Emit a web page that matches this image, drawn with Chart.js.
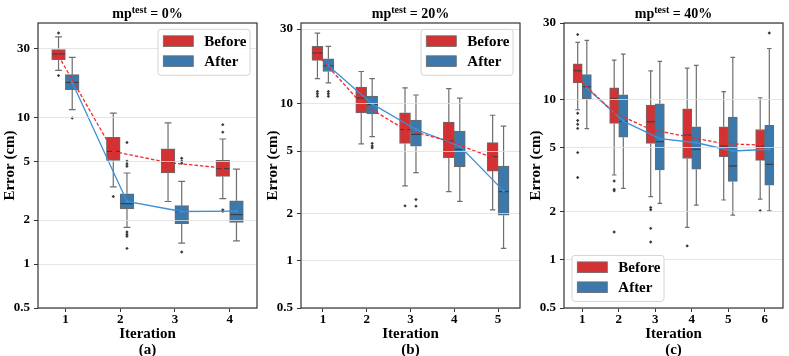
<!DOCTYPE html>
<html>
<head>
<meta charset="utf-8">
<script src="https://cdn.jsdelivr.net/npm/chart.js@4.4.1/dist/chart.umd.min.js"></script>
<style>
  html, body { margin: 0; padding: 0; background: #fff; }
  body { width: 789px; height: 356px; position: relative; overflow: hidden; font-family: 'Liberation Serif', 'Times New Roman', serif; }
  .panel { position: absolute; top: 0; width: 263px; height: 356px; }
  .panel canvas { position: absolute; left: 0; top: 0; }
  .ttl { position: absolute; top: 6.6px; left: 38px; width: 219px; text-align: center; font-size: 14px; line-height: 14px; font-weight: bold; color: #000; white-space: nowrap; }
  .ttl .sup { position: relative; top: -5px; font-size: 10px; }
</style>
</head>
<body>
<div class="panel" style="left:0px"><canvas id="ca" width="263" height="356"></canvas><div class="ttl">mp<span class="sup">test</span> = 0%</div></div>
<div class="panel" style="left:263px"><canvas id="cb" width="263" height="356"></canvas><div class="ttl">mp<span class="sup">test</span> = 20%</div></div>
<div class="panel" style="left:526px"><canvas id="cc" width="263" height="356"></canvas><div class="ttl">mp<span class="sup">test</span> = 40%</div></div>
<script>
// ---------- data (box stats: [lower whisker, Q1, median, Q3, upper whisker]) ----------
const seriesNames = ['Before', 'After'];
const yTicks = [0.5, 1, 2, 5, 10, 30];
const yTickLabels = ['0.5', '1', '2', '5', '10', '30'];

// (a) mp_test = 0%
const iterA = ['1', '2', '3', '4'];
const aBeforeBox = [[21.2, 25.1, 27.4, 29.4, 35.9], [3.37, 5.13, 5.9, 7.36, 10.8], [2.68, 4.2, 5.0, 6.16, 9.25], [2.8, 3.98, 4.5, 5.13, 7.18]];
const aAfterBox  = [[11.4, 15.6, 17.5, 19.8, 26.0], [1.78, 2.38, 2.59, 3.03, 4.2], [1.39, 1.89, 2.29, 2.51, 3.68], [1.44, 1.93, 2.18, 2.71, 4.47]];
const aBeforeOut = [[38.2, 19.5], [2.9], [], [9.0, 8.0, 2.35, 2.3]];
const aAfterOut  = [[10.0], [6.8, 5.05, 4.85, 4.67, 1.66, 1.6, 1.55, 1.28], [5.3, 5.05, 4.9, 1.21], []];
const aBeforeMean = [26.6, 5.9, 4.95, 4.55];
const aAfterMean  = [17.5, 2.68, 2.29, 2.3];

// (b) mp_test = 20%
const iterB = ['1', '2', '3', '4', '5'];
const bBeforeBox = [[14.5, 18.97, 21.1, 23.3, 28.3], [5.57, 8.77, 10.9, 12.8, 16.1], [3.0, 5.6, 6.87, 8.77, 12.65], [2.76, 4.54, 5.8, 7.65, 12.5], [2.11, 3.73, 4.61, 5.66, 8.47]];
const bAfterBox  = [[13.6, 16.1, 17.5, 19.4, 23.3], [6.18, 8.65, 9.9, 11.2, 14.5], [3.65, 5.38, 6.39, 7.88, 11.4], [2.39, 3.98, 5.13, 6.7, 10.9], [1.2, 1.95, 2.76, 4.02, 7.21]];
const bBeforeOut = [[12.0, 11.6, 11.2], [], [2.24], [], []];
const bAfterOut  = [[12.0, 11.6, 11.2], [5.6, 5.4, 5.25], [2.46, 2.23], [], []];
const bBeforeMean = [20.6, 10.1, 6.87, 5.8, 4.54];
const bAfterMean  = [17.5, 10.0, 6.87, 5.38, 2.79];

// (c) mp_test = 40%
const iterC = ['1', '2', '3', '4', '5', '6'];
const cBeforeBox = [[8.63, 12.7, 15.1, 16.7, 22.7], [3.38, 7.09, 10.1, 11.8, 17.6], [2.48, 5.32, 7.26, 9.22, 15.1], [1.59, 4.28, 6.0, 8.75, 15.7], [2.36, 4.4, 5.12, 6.76, 11.2], [2.39, 4.17, 5.12, 6.5, 10.25]];
const cAfterBox  = [[6.57, 10.1, 12.0, 14.3, 23.4], [2.79, 5.82, 7.3, 10.7, 19.2], [2.25, 3.63, 5.45, 9.4, 17.3], [2.19, 3.67, 4.89, 6.76, 16.3], [1.9, 3.08, 3.85, 7.76, 18.3], [2.02, 2.92, 3.94, 6.89, 20.8]];
const cBeforeOut = [[25.4, 8.2, 7.4, 7.0, 6.6, 4.66, 3.26], [3.1, 2.75, 2.69, 1.49], [2.12, 2.05, 1.57, 1.29], [1.22], [], [2.02]];
const cAfterOut  = [[], [], [], [], [], [26.0]];
const cBeforeMean = [13.5, 8.26, 6.5, 5.86, 5.3, 5.2];
const cAfterMean  = [11.8, 7.33, 5.7, 5.37, 4.77, 4.89];

// ---------- styling ----------
const FONT = "'Liberation Serif', 'Times New Roman', serif";
Chart.defaults.font.family = FONT;
const RED = '#d23234';
const BLUE = '#3b78ab';
const RED_LINE = '#f02a2a';
const BLUE_LINE = '#3d8fd6';
const EDGE = '#6a6a6a';

// whiskers, caps and medians drawn right after each box dataset, through the y scale
const boxStatsPlugin = {
  id: 'boxStats',
  afterDatasetDraw(chart, args) {
    const ds = chart.data.datasets[args.index];
    if (!ds.stats) return;
    const y = chart.scales.y;
    const ctx = chart.ctx;
    ctx.save();
    args.meta.data.forEach((el, i) => {
      const s = ds.stats[i];
      const p = el.getProps(['x', 'width'], true);
      const x = p.x, w = p.width;
      const pl = y.getPixelForValue(s[0]);
      const q1 = y.getPixelForValue(s[1]);
      const md = y.getPixelForValue(s[2]);
      const q3 = y.getPixelForValue(s[3]);
      const ph = y.getPixelForValue(s[4]);
      ctx.strokeStyle = '#6e6e6e';
      ctx.lineWidth = 1.2;
      ctx.beginPath();
      ctx.moveTo(x, q3); ctx.lineTo(x, ph);
      ctx.moveTo(x, q1); ctx.lineTo(x, pl);
      const cw = w * 0.25;
      ctx.moveTo(x - cw, ph); ctx.lineTo(x + cw, ph);
      ctx.moveTo(x - cw, pl); ctx.lineTo(x + cw, pl);
      ctx.stroke();
      ctx.strokeStyle = '#3c3c3c';
      ctx.lineWidth = 1.1;
      ctx.beginPath();
      ctx.moveTo(x - w / 2 + 0.5, md); ctx.lineTo(x + w / 2 - 0.5, md);
      ctx.stroke();
    });
    ctx.restore();
  }
};

// axes frame + in-plot legend
const frameLegendPlugin = {
  id: 'boxLegend',
  afterDraw(chart, args, opts) {
    const ctx = chart.ctx;
    const ca = chart.chartArea;
    ctx.save();
    ctx.strokeStyle = '#333';
    ctx.lineWidth = 1.2;
    ctx.strokeRect(ca.left, ca.top, ca.right - ca.left, ca.bottom - ca.top);
    const boxes = chart.data.datasets.filter(d => d.stats);
    const w = 92, h = 46;
    let x0, y0;
    if (opts.pos === 'ur') { x0 = ca.right - 7 - w; y0 = ca.top + 6.3; }
    else { x0 = ca.left + 8; y0 = ca.bottom - 6.6 - h; }
    ctx.beginPath();
    if (ctx.roundRect) ctx.roundRect(x0, y0, w, h, 3); else ctx.rect(x0, y0, w, h);
    ctx.fillStyle = 'rgba(255,255,255,0.85)';
    ctx.fill();
    ctx.strokeStyle = '#d4d4d4';
    ctx.lineWidth = 1;
    ctx.stroke();
    boxes.forEach((d, i) => {
      const py = y0 + 6.5 + i * 20;
      ctx.fillStyle = d.backgroundColor;
      ctx.fillRect(x0 + 5.3, py, 30, 10.7);
      ctx.strokeStyle = EDGE;
      ctx.lineWidth = 0.8;
      ctx.strokeRect(x0 + 5.3, py, 30, 10.7);
      ctx.fillStyle = '#000';
      ctx.font = 'bold 15px ' + FONT;
      ctx.textBaseline = 'middle';
      ctx.textAlign = 'left';
      ctx.fillText(d.label, x0 + 46.3, py + 6);
    });
    ctx.restore();
  }
};

function makePanel(id, labels, bBox, aBox, bOut, aOut, bMean, aMean, yMax, legendPos, sub) {
  const n = labels.length;
  const offB = -0.125, offA = 0.125;
  const pts = (arr, off) => arr.map((v, i) => ({ x: i + 1 + off, y: v }));
  const boxes = (arr, off) => arr.map((s, i) => ({ x: i + 1 + off, y: [s[1], s[3]] }));
  const outs = (arr, off) => arr.flatMap((vals, i) => vals.map(v => ({ x: i + 1 + off, y: v })));
  new Chart(document.getElementById(id), {
    type: 'bar',
    data: {
      labels: labels,
      datasets: [
        { type: 'line', label: 'Before mean', data: pts(bMean, offB), xAxisID: 'x2', yAxisID: 'y',
          borderColor: RED_LINE, backgroundColor: RED_LINE, borderDash: [3.5, 2], borderWidth: 1.3,
          pointRadius: 1.4, pointBorderWidth: 0, order: 0 },
        { type: 'line', label: 'After mean', data: pts(aMean, offA), xAxisID: 'x2', yAxisID: 'y',
          borderColor: BLUE_LINE, backgroundColor: BLUE_LINE, borderWidth: 1.3,
          pointRadius: 1.4, pointBorderWidth: 0, order: 0 },
        { type: 'scatter', label: 'Before outliers', data: outs(bOut, offB), xAxisID: 'x2', yAxisID: 'y',
          pointStyle: 'rectRot', pointRadius: 1.7, backgroundColor: '#3a3a3a', borderWidth: 0, order: 1 },
        { type: 'scatter', label: 'After outliers', data: outs(aOut, offA), xAxisID: 'x2', yAxisID: 'y',
          pointStyle: 'rectRot', pointRadius: 1.7, backgroundColor: '#3a3a3a', borderWidth: 0, order: 1 },
        { label: seriesNames[0], data: boxes(bBox, offB), stats: bBox, xAxisID: 'x2', yAxisID: 'y',
          backgroundColor: RED, borderColor: EDGE, borderWidth: 1, borderSkipped: false,
          grouped: false, categoryPercentage: 1, barPercentage: 1, order: 2 },
        { label: seriesNames[1], data: boxes(aBox, offA), stats: aBox, xAxisID: 'x2', yAxisID: 'y',
          backgroundColor: BLUE, borderColor: EDGE, borderWidth: 1, borderSkipped: false,
          grouped: false, categoryPercentage: 1, barPercentage: 1, order: 2 }
      ]
    },
    options: {
      responsive: false,
      animation: false,
      events: [],
      layout: { padding: { top: 23, right: 6, left: 0, bottom: 0 } },
      scales: {
        x: {
          type: 'category', offset: true,
          grid: { display: true, offset: false, drawOnChartArea: false, drawTicks: true, tickLength: 4, tickColor: '#333', color: '#333' },
          border: { display: false },
          ticks: { color: '#000', font: { size: 13, weight: 'bold', lineHeight: 1 }, padding: 1 },
          title: { display: true, text: ['Iteration', sub], color: '#000', font: { size: 15, weight: 'bold', lineHeight: 1.07 }, padding: { top: 0, bottom: -2 } },
          afterFit: s => { s.height = 48; }
        },
        x2: { type: 'linear', display: false, offset: false, grid: { offset: false }, min: 0.5, max: n + 0.5, ticks: { stepSize: 1 } },
        y: {
          type: 'logarithmic', min: 0.5, max: yMax,
          grid: { z: 1, color: 'rgba(222,222,222,0.8)', lineWidth: 1, tickColor: '#333', tickLength: 4 },
          border: { display: false },
          afterBuildTicks: s => { s.ticks = yTicks.map(v => ({ value: v })); },
          ticks: { autoSkip: false, color: '#000', font: { size: 13, weight: 'bold' }, padding: 4,
                   callback: v => { const k = yTicks.indexOf(v); return k >= 0 ? yTickLabels[k] : ''; } },
          title: { display: true, text: 'Error (cm)', color: '#000', font: { size: 15, weight: 'bold', lineHeight: 1 }, padding: { top: 3, bottom: 0 } },
          afterFit: s => { s.width = 38; }
        }
      },
      plugins: { legend: { display: false }, tooltip: { enabled: false }, boxLegend: { pos: legendPos } }
    },
    plugins: [boxStatsPlugin, frameLegendPlugin]
  });
}

makePanel('ca', iterA, aBeforeBox, aAfterBox, aBeforeOut, aAfterOut, aBeforeMean, aAfterMean, 44.7, 'ur', '(a)');
makePanel('cb', iterB, bBeforeBox, bAfterBox, bBeforeOut, bAfterOut, bBeforeMean, bAfterMean, 32.8, 'ur', '(b)');
makePanel('cc', iterC, cBeforeBox, cAfterBox, cBeforeOut, cAfterOut, cBeforeMean, cAfterMean, 30, 'll', '(c)');
</script>
</body>
</html>
